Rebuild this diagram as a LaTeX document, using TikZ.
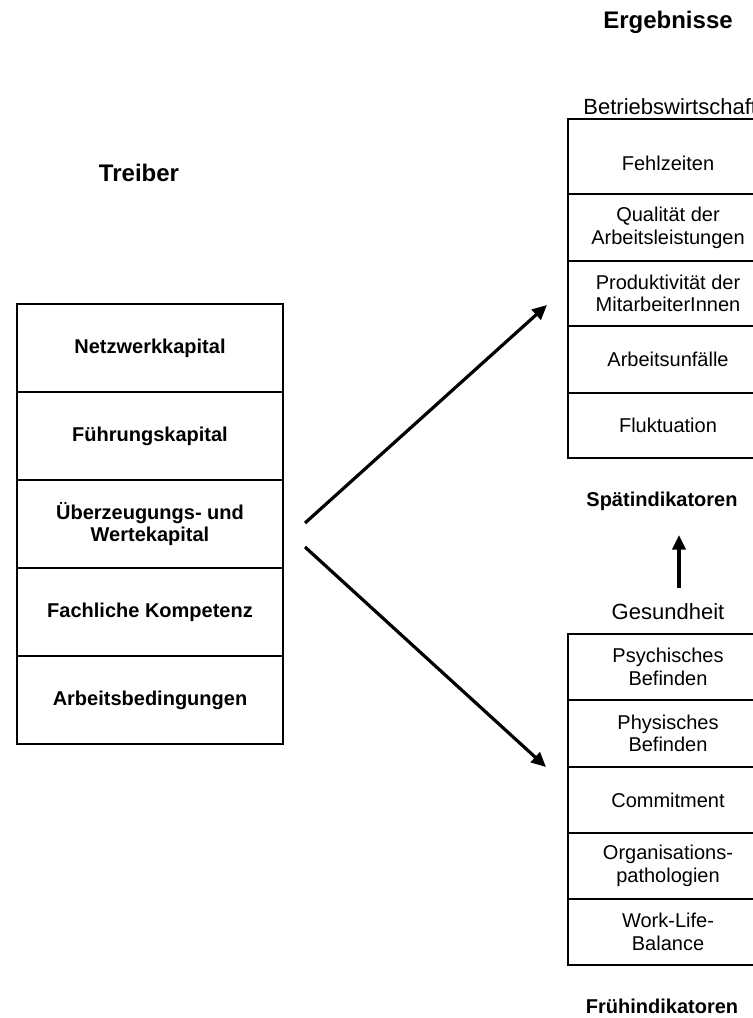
\documentclass[tikz,border=0pt]{standalone}
\usepackage{fontspec}
\setmainfont{Liberation Sans}
\usetikzlibrary{arrows.meta}

\begin{document}
\begin{tikzpicture}[x=0.75pt, y=-0.75pt, line width=1.5pt]
    \tikzset{cell/.style={draw, align=center, inner sep=0pt, font=\fontsize{15}{17}\selectfont},
             driver/.style={cell, minimum width=199.5pt, minimum height=66pt, font=\fontsize{15}{17}\selectfont\bfseries},
             result/.style={cell, minimum width=150pt, minimum height=#1},
             heading/.style={font=\fontsize{18}{21}\selectfont\bfseries},
             group/.style={font=\fontsize{16.5}{19}\selectfont},
             indicator/.style={font=\fontsize{15}{17}\selectfont\bfseries},
             flow/.style={-{Triangle[length=11pt,width=10pt]}, line width=2.4pt}}
    \useasboundingbox (0,0) rectangle (753,1018);

    % Headings
    \node[heading] (ergebnisse) at (668, 22) {Ergebnisse};
    \node[heading] (treiber) at (139, 173) {Treiber};

    % Left column - drivers
    \node[driver] (d1) at (150, 348) {Netzwerkkapital};
    \node[driver] (d2) at (150, 436) {Führungskapital};
    \node[driver] (d3) at (150, 524) {Überzeugungs- und\\Wertekapital};
    \node[driver] (d4) at (150, 612) {Fachliche Kompetenz};
    \node[driver] (d5) at (150, 700) {Arbeitsbedingungen};

    % Right column, top - business results
    \node[group, anchor=west] (bwl) at (578, 107) {Betriebswirtschaft};
    \node[result=56.25pt, text height=21pt, text depth=0pt] (b1) at (668, 156.5) {Fehlzeiten};
    \node[result=50.25pt] (b2) at (668, 227.5) {Qualität der\\Arbeitsleistungen};
    \node[result=48.75pt] (b3) at (668, 293.5) {Produktivität der\\MitarbeiterInnen};
    \node[result=50.25pt] (b4) at (668, 359.5) {Arbeitsunfälle};
    \node[result=48.75pt] (b5) at (668, 425.5) {Fluktuation};
    \node[indicator] (spaet) at (662, 501) {Spätindikatoren};

    % Right column, bottom - health
    \node[group] (gesund) at (668, 612) {Gesundheit};
    \node[result=49.5pt] (g1) at (668, 667) {Psychisches\\Befinden};
    \node[result=50.25pt] (g2) at (668, 733.5) {Physisches\\Befinden};
    \node[result=49.5pt] (g3) at (668, 800) {Commitment};
    \node[result=49.5pt] (g4) at (668, 866) {Organisations-\\pathologien};
    \node[result=49.5pt] (g5) at (668, 932) {Work-Life-\\Balance};
    \node[indicator] (frueh) at (662, 1006) {Frühindikatoren};

    % Arrows
    \coordinate (upstart) at (305, 523);
    \coordinate (upend) at (547, 305);
    \coordinate (downstart) at (305, 547);
    \coordinate (downend) at (546, 767);
    \coordinate (lateend) at (679, 535);
    \draw[flow] (upstart) -- (upend);
    \draw[flow] (downstart) -- (downend);
    \draw[flow] (gesund.north -| lateend) ++(0, -10) -- (lateend);
\end{tikzpicture}
\end{document}
